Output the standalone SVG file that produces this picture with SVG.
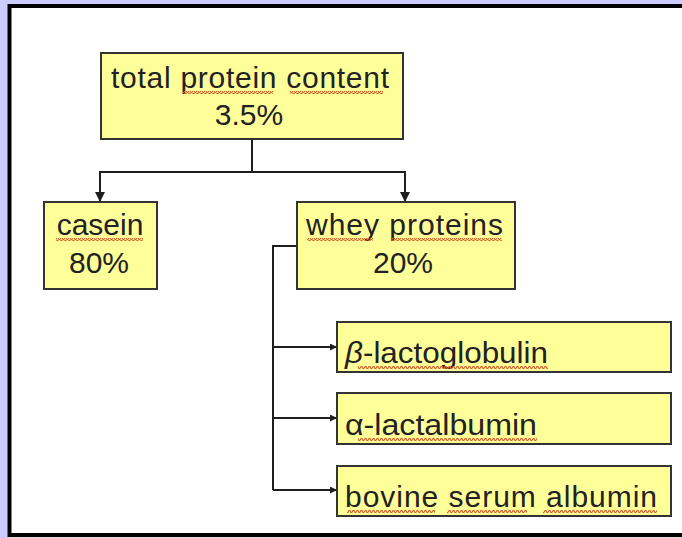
<svg xmlns="http://www.w3.org/2000/svg" width="682" height="538" viewBox="0 0 682 538">
<defs>
<style>
.box{fill:#ffff99;stroke:#333;stroke-width:2}
.t{font-family:"Liberation Sans",Arial,sans-serif;font-size:30px;fill:#222}
.c{text-anchor:middle}
.ln{fill:none;stroke:#1e1e1e;stroke-width:2}
.sq{fill:url(#wave)}
</style>
<pattern id="wave" x="0" y="0" width="4" height="3" patternUnits="userSpaceOnUse">
<path d="M0,2.5 L1,0.5 L2,0.5 L3,2.5 L4,2.5" fill="none" stroke="#d8642c" stroke-width="1.2"/>
</pattern>
<marker id="ah" viewBox="0 0 10 10" refX="10" refY="5" markerWidth="5" markerHeight="5" orient="auto" markerUnits="strokeWidth">
<path d="M0,0 L10,5 L0,10 z" fill="#1e1e1e"/>
</marker>
<marker id="as" viewBox="0 0 10 10" refX="10" refY="5" markerWidth="3.5" markerHeight="3.5" orient="auto" markerUnits="strokeWidth">
<path d="M0,0 L10,5 L0,10 z" fill="#1e1e1e"/>
</marker>
</defs>
<rect x="0" y="0" width="682" height="538" fill="#ccccff"/>
<rect x="9.5" y="6" width="700" height="529" fill="#ffffff" stroke="#000" stroke-width="4"/>
<rect x="7.5" y="537" width="675" height="1" fill="#dcdcdc"/>

<g id="connectors">
<path class="ln" d="M252,139 V172"/>
<path class="ln" d="M100,172 H405"/>
<path class="ln" d="M100,171 V202" marker-end="url(#ah)"/>
<path class="ln" d="M405,171 V202" marker-end="url(#ah)"/>
<path class="ln" d="M297,246 H273 V490"/>
<path class="ln" d="M273,347 H337" marker-end="url(#as)"/>
<path class="ln" d="M273,418 H337" marker-end="url(#as)"/>
<path class="ln" d="M273,490 H337" marker-end="url(#as)"/>
</g>

<g id="total">
<rect class="box" x="101" y="53" width="302" height="86"/>
<text class="t c" x="250" y="88" textLength="278" lengthAdjust="spacing">total protein content</text>
<text class="t c" x="249" y="125">3.5%</text>
<rect class="sq" x="183" y="91" width="90" height="3"/>
<rect class="sq" x="290" y="91" width="93" height="3"/>
</g>

<g id="casein">
<rect class="box" x="44" y="202" width="113" height="87"/>
<text class="t c" x="100" y="235">casein</text>
<text class="t c" x="99" y="273">80%</text>
<rect class="sq" x="56" y="238" width="87" height="3"/>
</g>

<g id="whey">
<rect class="box" x="297" y="202" width="218" height="87"/>
<text class="t" x="306" y="235" textLength="197" lengthAdjust="spacing">whey proteins</text>
<text class="t c" x="403" y="273">20%</text>
<rect class="sq" x="307" y="238" width="66" height="3"/>
<rect class="sq" x="392" y="238" width="110" height="3"/>
</g>

<g id="beta">
<rect class="box" x="337" y="322" width="334" height="50"/>
<text class="t" x="345" y="363" textLength="203" lengthAdjust="spacingAndGlyphs"><tspan font-style="italic">β</tspan>-lactoglobulin</text>
<rect class="sq" x="358" y="366" width="190" height="3"/>
</g>

<g id="alpha">
<rect class="box" x="337" y="393" width="334" height="51"/>
<text class="t" x="345" y="435" textLength="192" lengthAdjust="spacingAndGlyphs">α-lactalbumin</text>
<rect class="sq" x="358" y="438" width="179" height="3"/>
</g>

<g id="bsa">
<rect class="box" x="337" y="466" width="334" height="50"/>
<text class="t" x="345" y="507" textLength="312" lengthAdjust="spacing">bovine serum albumin</text>
<rect class="sq" x="347" y="510" width="88" height="3"/>
<rect class="sq" x="447" y="510" width="80" height="3"/>
<rect class="sq" x="543" y="510" width="114" height="3"/>
</g>
</svg>
